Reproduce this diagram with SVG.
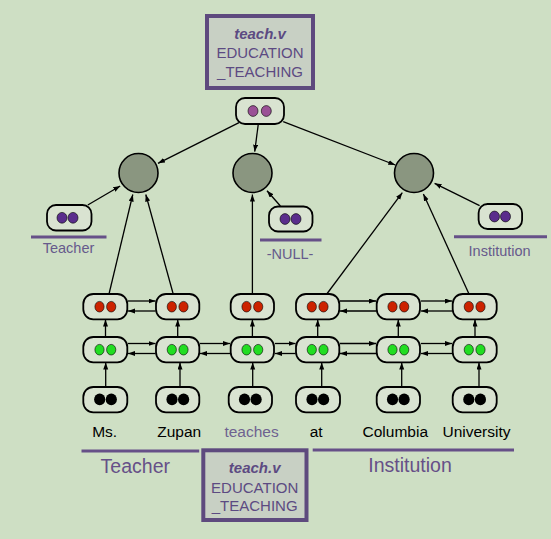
<svg xmlns="http://www.w3.org/2000/svg" width="551" height="539" viewBox="0 0 551 539">
<defs>
<marker id="ah" markerUnits="userSpaceOnUse" markerWidth="8" markerHeight="6" refX="7" refY="2.5" orient="auto"><path d="M0,0 L7,2.5 L0,5 z" fill="#000"/></marker>
<style>
.nb{fill:#d9e3d1;stroke:#000;stroke-width:1.8}
.c{fill:#8a9680;stroke:#000;stroke-width:1.6}
.d{stroke:#000;stroke-width:0.6}
.r{fill:#cc2200}.g{fill:#22dd22}.k{fill:#000}.pt{fill:#9a5096}.ps{fill:#5a2d8c}
.fr{fill:#c8d0c4;stroke:#5e4a7e;stroke-width:4}
.ft{font-family:"Liberation Sans",Arial,sans-serif;font-size:15px;fill:#5c4a82;text-anchor:middle}
.fb{font-weight:bold;font-style:italic}
.ul{stroke:#665088;stroke-width:3}
.lab{font-family:"Liberation Sans",Arial,sans-serif;font-size:14.5px;fill:#665a8c;text-anchor:middle}
.big{font-family:"Liberation Sans",Arial,sans-serif;font-size:19.5px;fill:#665088;text-anchor:middle}
.w{font-family:"Liberation Sans",Arial,sans-serif;font-size:15.5px;fill:#000;text-anchor:middle}
.e{stroke:#000;stroke-width:1.3;fill:none;marker-end:url(#ah)}
</style>
</defs>
<rect width="551" height="539" fill="#cedfc4"/>

<g id="frame-top">
<rect class="fr" x="207" y="16" width="106" height="72"/>
<text class="ft fb" x="260" y="38.8">teach.v</text>
<text class="ft" x="260" y="58">EDUCATION</text>
<text class="ft" x="260" y="77.3">_TEACHING</text>
</g>

<g id="frame-bottom">
<rect class="fr" x="203.3" y="450.3" width="103.2" height="69.7"/>
<text class="ft fb" x="254.7" y="472.6">teach.v</text>
<text class="ft" x="254.7" y="492.5">EDUCATION</text>
<text class="ft" x="254.7" y="511">_TEACHING</text>
</g>

<g id="connectors">
<line class="e" x1="239" y1="122.7" x2="158" y2="163.3"/>
<line class="e" x1="258.3" y1="124" x2="254.7" y2="151.7"/>
<line class="e" x1="283.2" y1="121.7" x2="395.3" y2="165"/>
<line class="e" x1="87.8" y1="205" x2="120.2" y2="186"/>
<line class="e" x1="280.4" y1="206" x2="267" y2="190.7"/>
<line class="e" x1="479.6" y1="205.7" x2="434.6" y2="183.3"/>
<line class="e" x1="109" y1="294" x2="132.8" y2="194.5"/>
<line class="e" x1="173.2" y1="294" x2="145.8" y2="194.5"/>
<line class="e" x1="252.4" y1="294" x2="252.4" y2="194.5"/>
<line class="e" x1="326.8" y1="294" x2="402.3" y2="192.7"/>
<line class="e" x1="469" y1="294" x2="423.4" y2="194"/>
<line class="e" x1="128" y1="301" x2="155.5" y2="301"/>
<line class="e" x1="155.5" y1="311" x2="128" y2="311"/>
<line class="e" x1="340" y1="301" x2="376" y2="301"/>
<line class="e" x1="376" y1="311" x2="340" y2="311"/>
<line class="e" x1="421" y1="301" x2="452" y2="301"/>
<line class="e" x1="452" y1="311" x2="421" y2="311"/>
<line class="e" x1="128" y1="343.5" x2="155.5" y2="343.5"/>
<line class="e" x1="155.5" y1="353.5" x2="128" y2="353.5"/>
<line class="e" x1="200" y1="343.5" x2="230" y2="343.5"/>
<line class="e" x1="230" y1="353.5" x2="200" y2="353.5"/>
<line class="e" x1="275" y1="343.5" x2="295.5" y2="343.5"/>
<line class="e" x1="295.5" y1="353.5" x2="275" y2="353.5"/>
<line class="e" x1="340" y1="343.5" x2="376" y2="343.5"/>
<line class="e" x1="376" y1="353.5" x2="340" y2="353.5"/>
<line class="e" x1="421" y1="343.5" x2="452" y2="343.5"/>
<line class="e" x1="452" y1="353.5" x2="421" y2="353.5"/>
<line class="e" x1="105.5" y1="337" x2="105.5" y2="319.5"/>
<line class="e" x1="177.7" y1="337" x2="177.7" y2="319.5"/>
<line class="e" x1="252.4" y1="337" x2="252.4" y2="319.5"/>
<line class="e" x1="317.7" y1="337" x2="317.7" y2="319.5"/>
<line class="e" x1="398.3" y1="337" x2="398.3" y2="319.5"/>
<line class="e" x1="475" y1="337" x2="475" y2="319.5"/>
<line class="e" x1="105.7" y1="388" x2="105.7" y2="362.5"/>
<line class="e" x1="180" y1="388" x2="180" y2="362.5"/>
<line class="e" x1="252.7" y1="388" x2="252.7" y2="362.5"/>
<line class="e" x1="321.7" y1="388" x2="321.7" y2="362.5"/>
<line class="e" x1="401.7" y1="388" x2="401.7" y2="362.5"/>
<line class="e" x1="479" y1="388" x2="479" y2="362.5"/>
</g>

<g id="circle-teacher"><circle class="c" cx="138.5" cy="173" r="19.5"/></g>
<g id="circle-null"><circle class="c" cx="252.5" cy="173" r="19.5"/></g>
<g id="circle-institution"><circle class="c" cx="414" cy="173" r="19.5"/></g>

<g id="node-top">
<rect class="nb" x="236" y="98" width="48" height="26" rx="9"/>
<ellipse class="d pt" cx="253" cy="111" rx="5" ry="5.4"/><ellipse class="d pt" cx="266.3" cy="111" rx="5" ry="5.4"/>
</g>

<g id="node-teacher">
<rect class="nb" x="47" y="205" width="44.5" height="25.5" rx="9"/>
<ellipse class="d ps" cx="62" cy="217.8" rx="5" ry="5.4"/><ellipse class="d ps" cx="73" cy="217.8" rx="5" ry="5.4"/>
<line class="ul" x1="31" y1="237" x2="106.5" y2="237"/>
<text class="lab" x="68.5" y="253">Teacher</text>
</g>

<g id="node-null">
<rect class="nb" x="269" y="206.5" width="43.5" height="25" rx="9"/>
<ellipse class="d ps" cx="285" cy="219" rx="5" ry="5.4"/><ellipse class="d ps" cx="296" cy="219" rx="5" ry="5.4"/>
<line class="ul" x1="260" y1="240" x2="321.5" y2="240"/>
<text class="lab" x="290" y="259">-NULL-</text>
</g>

<g id="node-institution">
<rect class="nb" x="478.6" y="204" width="43.5" height="25" rx="9"/>
<ellipse class="d ps" cx="494.5" cy="216.5" rx="5" ry="5.4"/><ellipse class="d ps" cx="505.5" cy="216.5" rx="5" ry="5.4"/>
<line class="ul" x1="454" y1="236.7" x2="547" y2="236.7"/>
<text class="lab" x="499.6" y="256">Institution</text>
</g>

<g id="red-ms"><rect class="nb" x="83.3" y="294" width="44" height="25.3" rx="10"/><ellipse class="d r" cx="99.5" cy="306.7" rx="4.6" ry="5.3"/><ellipse class="d r" cx="111.2" cy="306.7" rx="4.6" ry="5.3"/></g>
<g id="red-zupan"><rect class="nb" x="156" y="294" width="43.3" height="25.3" rx="10"/><ellipse class="d r" cx="171.8" cy="306.7" rx="4.6" ry="5.3"/><ellipse class="d r" cx="183.5" cy="306.7" rx="4.6" ry="5.3"/></g>
<g id="red-teaches"><rect class="nb" x="230.7" y="294" width="43.3" height="25.3" rx="10"/><ellipse class="d r" cx="246.5" cy="306.7" rx="4.6" ry="5.3"/><ellipse class="d r" cx="258.2" cy="306.7" rx="4.6" ry="5.3"/></g>
<g id="red-at"><rect class="nb" x="296" y="294" width="43.3" height="25.3" rx="10"/><ellipse class="d r" cx="311.8" cy="306.7" rx="4.6" ry="5.3"/><ellipse class="d r" cx="323.5" cy="306.7" rx="4.6" ry="5.3"/></g>
<g id="red-columbia"><rect class="nb" x="376.7" y="294" width="43.3" height="25.3" rx="10"/><ellipse class="d r" cx="392.5" cy="306.7" rx="4.6" ry="5.3"/><ellipse class="d r" cx="404.2" cy="306.7" rx="4.6" ry="5.3"/></g>
<g id="red-university"><rect class="nb" x="452.7" y="294" width="44" height="25.3" rx="10"/><ellipse class="d r" cx="468.8" cy="306.7" rx="4.6" ry="5.3"/><ellipse class="d r" cx="480.5" cy="306.7" rx="4.6" ry="5.3"/></g>

<g id="green-ms"><rect class="nb" x="83.3" y="337" width="44" height="25.3" rx="10"/><ellipse class="d g" cx="99.5" cy="349.7" rx="4.6" ry="5.3"/><ellipse class="d g" cx="111.2" cy="349.7" rx="4.6" ry="5.3"/></g>
<g id="green-zupan"><rect class="nb" x="156" y="337" width="43.3" height="25.3" rx="10"/><ellipse class="d g" cx="171.8" cy="349.7" rx="4.6" ry="5.3"/><ellipse class="d g" cx="183.5" cy="349.7" rx="4.6" ry="5.3"/></g>
<g id="green-teaches"><rect class="nb" x="230.7" y="337" width="43.3" height="25.3" rx="10"/><ellipse class="d g" cx="246.5" cy="349.7" rx="4.6" ry="5.3"/><ellipse class="d g" cx="258.2" cy="349.7" rx="4.6" ry="5.3"/></g>
<g id="green-at"><rect class="nb" x="296" y="337" width="43.3" height="25.3" rx="10"/><ellipse class="d g" cx="311.8" cy="349.7" rx="4.6" ry="5.3"/><ellipse class="d g" cx="323.5" cy="349.7" rx="4.6" ry="5.3"/></g>
<g id="green-columbia"><rect class="nb" x="376.7" y="337" width="43.3" height="25.3" rx="10"/><ellipse class="d g" cx="392.5" cy="349.7" rx="4.6" ry="5.3"/><ellipse class="d g" cx="404.2" cy="349.7" rx="4.6" ry="5.3"/></g>
<g id="green-university"><rect class="nb" x="452.7" y="337" width="44" height="25.3" rx="10"/><ellipse class="d g" cx="468.8" cy="349.7" rx="4.6" ry="5.3"/><ellipse class="d g" cx="480.5" cy="349.7" rx="4.6" ry="5.3"/></g>

<g id="word-ms"><rect class="nb" x="83.3" y="387" width="44" height="25.3" rx="10"/><ellipse class="k" cx="99.7" cy="399.4" rx="5.6" ry="5.9"/><ellipse class="k" cx="111.3" cy="399.4" rx="5.6" ry="5.9"/><text class="w" x="104.7" y="436.5">Ms.</text></g>
<g id="word-zupan"><rect class="nb" x="156" y="387" width="43.3" height="25.3" rx="10"/><ellipse class="k" cx="172" cy="399.4" rx="5.6" ry="5.9"/><ellipse class="k" cx="183.6" cy="399.4" rx="5.6" ry="5.9"/><text class="w" x="179.2" y="436.5">Zupan</text></g>
<g id="word-teaches"><rect class="nb" x="228.7" y="387" width="43.3" height="25.3" rx="10"/><ellipse class="k" cx="244.5" cy="399.4" rx="5.6" ry="5.9"/><ellipse class="k" cx="256.1" cy="399.4" rx="5.6" ry="5.9"/><text class="w" x="251.6" y="436.5" style="fill:#6e6290">teaches</text></g>
<g id="word-at"><rect class="nb" x="296" y="387" width="44" height="25.3" rx="10"/><ellipse class="k" cx="312" cy="399.4" rx="5.6" ry="5.9"/><ellipse class="k" cx="323.6" cy="399.4" rx="5.6" ry="5.9"/><text class="w" x="316.2" y="436.5">at</text></g>
<g id="word-columbia"><rect class="nb" x="376.7" y="387" width="43.3" height="25.3" rx="10"/><ellipse class="k" cx="392.5" cy="399.4" rx="5.6" ry="5.9"/><ellipse class="k" cx="404.1" cy="399.4" rx="5.6" ry="5.9"/><text class="w" x="395.3" y="436.5">Columbia</text></g>
<g id="word-university"><rect class="nb" x="452.7" y="387" width="44" height="25.3" rx="10"/><ellipse class="k" cx="468.8" cy="399.4" rx="5.6" ry="5.9"/><ellipse class="k" cx="480.4" cy="399.4" rx="5.6" ry="5.9"/><text class="w" x="476.5" y="436.5">University</text></g>

<g id="span-teacher">
<line class="ul" x1="81.5" y1="451" x2="199.2" y2="451"/>
<text class="big" x="135.3" y="472.5">Teacher</text>
</g>
<g id="span-institution">
<line class="ul" x1="312.7" y1="450" x2="514" y2="450"/>
<text class="big" x="410" y="472">Institution</text>
</g>
</svg>
